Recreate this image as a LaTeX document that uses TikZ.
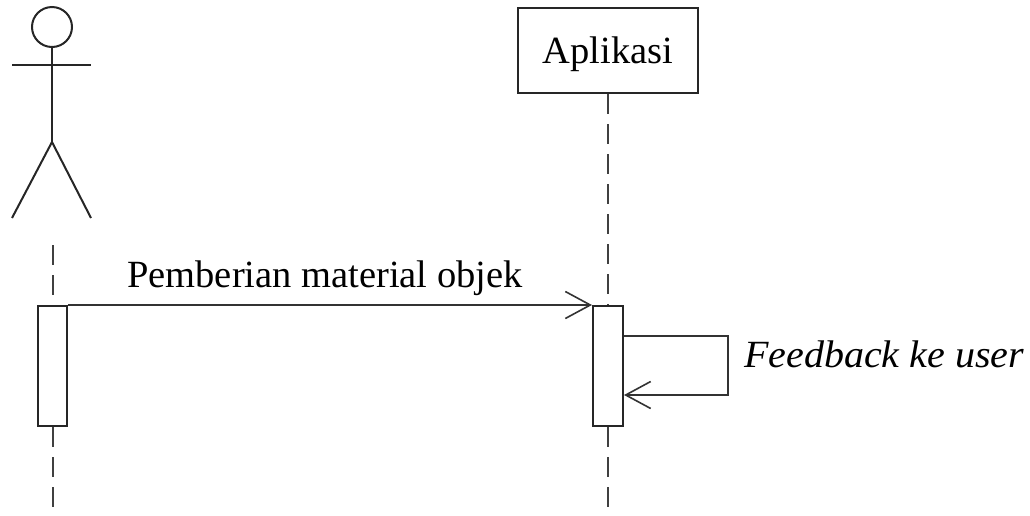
\documentclass[tikz,border=0pt]{standalone}
\usepackage{fontspec}
\setmainfont{Liberation Serif}
\usetikzlibrary{arrows.meta}
\begin{document}
\begin{tikzpicture}[x=1pt,y=-1pt,
  line width=2pt, draw=black!85,
  txt/.style={font=\fontsize{38.5}{46}\selectfont, inner sep=0pt},
  box/.style={draw=black!85, fill=white, inner sep=0pt},
  life/.style={draw=black!75, dash pattern=on 20pt off 10pt},
  msg/.style={draw=black!80, line width=1.8pt, -{Straight Barb[length=25pt,width=27pt,line width=1.6pt]}}
]
\useasboundingbox (0,0) rectangle (1030,515);
% actor
\node[draw=black!85, circle, minimum size=40pt, inner sep=0pt] (head) at (52,27) {};
\coordinate (hip) at (52,142);
\coordinate (armL) at (12,65);
\coordinate (armR) at (91,65);
\coordinate (footL) at (12,218);
\coordinate (footR) at (91,218);
\draw (head.south) -- (hip);
\draw (armL) -- (armR);
\draw (footL) -- (hip) -- (footR);
% application object
\node[box, txt, minimum width=180pt, minimum height=85pt, text height=25.5pt, text depth=0pt] (app) at (608,50.5) {Aplikasi};
% activations
\node[box, minimum width=29pt, minimum height=120pt] (act1) at (52.5,366) {};
\node[box, minimum width=30pt, minimum height=120pt] (act2) at (608,366) {};
% lifelines
\coordinate (lifetop1) at (52.5,245);
\coordinate (lifeend1) at (52.5,515);
\coordinate (lifeend2) at (608,515);
\draw[life] (lifetop1) -- (act1.north);
\draw[life] (act1.south) -- (lifeend1);
\draw[life] (app.south) -- (act2.north);
\draw[life] (act2.south) -- (lifeend2);
% messages
\draw[msg] (act1.north east) -- (act2.north west);
\node[txt, anchor=base] (m1) at (325,287) {Pemberian material objek};
\coordinate (selfout) at ([yshift=-31pt]act2.north east);
\coordinate (selfin) at ([yshift=-90pt]act2.north east);
\draw[msg] (selfout) -- ++(104pt,0) |- (selfin);
\node[txt, anchor=base west, font=\fontsize{38.5}{46}\selectfont\itshape, xscale=1.04] (m2) at (743,367) {Feedback ke user};
\end{tikzpicture}
\end{document}
